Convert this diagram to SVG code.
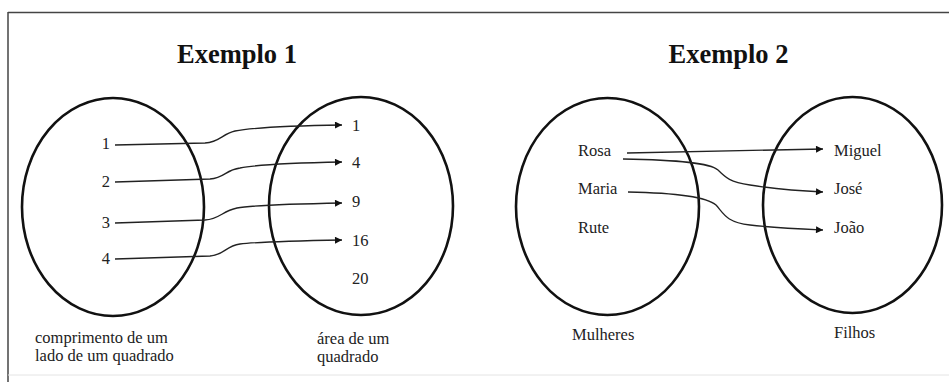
<svg xmlns="http://www.w3.org/2000/svg" width="949" height="382" viewBox="0 0 949 382">
<defs>
<style>
.set{fill:none;stroke:#111;stroke-width:2.6}
.con{fill:none;stroke:#222;stroke-width:1.3}
.t{font-family:"Liberation Serif","Times New Roman",serif;font-size:16.5px;fill:#222}
.title{font-family:"Liberation Serif","Times New Roman",serif;font-size:26.5px;font-weight:bold;fill:#111;text-anchor:middle}
.num{text-anchor:end}
</style>
<marker id="ah" viewBox="0 0 10 10" refX="10" refY="5" markerWidth="9" markerHeight="7" markerUnits="userSpaceOnUse" orient="auto">
<path d="M0,0 L10,5 L0,10 z" fill="#111"/>
</marker>
</defs>
<rect x="0" y="0" width="949" height="382" fill="#fff"/>
<g id="frame">
<line x1="8" y1="12.5" x2="949" y2="12.5" stroke="#444" stroke-width="1.5"/>
<line x1="8" y1="12" x2="8" y2="382" stroke="#444" stroke-width="1.5"/>
<line x1="8" y1="375" x2="949" y2="375" stroke="#e4e4e4" stroke-width="1"/>
</g>
<text class="title" x="237" y="63">Exemplo 1</text>
<text class="title" x="728.5" y="63">Exemplo 2</text>
<g id="set-lado">
<ellipse class="set" cx="113" cy="207" rx="91" ry="109"/>
<text class="t num" x="110" y="149">1</text>
<text class="t num" x="110" y="187">2</text>
<text class="t num" x="110" y="228">3</text>
<text class="t num" x="110" y="264">4</text>
<text class="t" x="35" y="343">comprimento de um</text>
<text class="t" x="35" y="361">lado de um quadrado</text>
</g>
<g id="set-area">
<ellipse class="set" cx="361" cy="206" rx="92" ry="109"/>
<text class="t" x="352" y="131">1</text>
<text class="t" x="352" y="168">4</text>
<text class="t" x="352" y="207">9</text>
<text class="t" x="352" y="246">16</text>
<text class="t" x="352" y="284">20</text>
<text class="t" x="317" y="344">área de um</text>
<text class="t" x="317" y="362">quadrado</text>
</g>
<g id="set-mulheres">
<ellipse class="set" cx="607.5" cy="206.5" rx="91.5" ry="108.5"/>
<text class="t" x="578" y="156">Rosa</text>
<text class="t" x="578" y="194">Maria</text>
<text class="t" x="578" y="233">Rute</text>
<text class="t" x="572" y="340">Mulheres</text>
</g>
<g id="set-filhos">
<ellipse class="set" cx="852.5" cy="205" rx="89.5" ry="108"/>
<text class="t" x="834" y="156">Miguel</text>
<text class="t" x="834" y="194">José</text>
<text class="t" x="834" y="233">João</text>
<text class="t" x="834" y="338">Filhos</text>
</g>
<g id="connectors">
<path class="con" marker-end="url(#ah)" d="M115,145 L205,143 C220,142 222,134 235,131 C250,128 280,126 342,125"/>
<path class="con" marker-end="url(#ah)" d="M115,182 L210,179 C225,178 225,170 240,168 C255,165 290,163 342,162"/>
<path class="con" marker-end="url(#ah)" d="M115,223 L205,220 C220,219 222,211 237,208 C252,205 290,204 342,203"/>
<path class="con" marker-end="url(#ah)" d="M115,259 L210,256 C225,255 225,246 240,244 C255,242 290,241 342,240"/>
<path class="con" marker-end="url(#ah)" d="M627,153 L823,149"/>
<path class="con" marker-end="url(#ah)" d="M623,159 C680,160 710,163 718,170 C726,178 730,182 750,185 C775,189 800,191 823,192"/>
<path class="con" marker-end="url(#ah)" d="M628,192 C680,193 708,198 716,205 C724,214 726,222 750,225 C775,228 800,229 823,230"/>
</g>
</svg>
